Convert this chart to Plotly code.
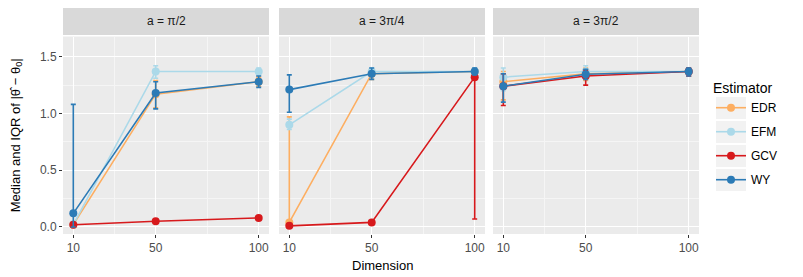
import plotly.graph_objects as go

OFF = 8  # default page margin of the html body
W, H = 803 - OFF, 277 - OFF

dims = [10, 50, 100]
panels = ["a = π/2", "a = 3π/4", "a = 3π/2"]
estimators = ["EDR", "EFM", "GCV", "WY"]
colors = {"EDR": "#FDAE61", "EFM": "#ABD9E9", "GCV": "#D7191C", "WY": "#2C7BB6"}

# medians / lower quartile / upper quartile, one row per panel
EDR_med = [[0.02, 1.17, 1.28], [0.04, 1.35, 1.37], [1.28, 1.35, 1.37]]
EDR_lo = [[0.00, 1.05, 1.24], [0.00, 1.30, 1.34], [1.12, 1.29, 1.33]]
EDR_hi = [[0.04, 1.29, 1.32], [0.97, 1.39, 1.39], [1.37, 1.40, 1.40]]

EFM_med = [[0.02, 1.37, 1.37], [0.90, 1.37, 1.37], [1.32, 1.37, 1.37]]
EFM_lo = [[0.00, 1.31, 1.34], [0.86, 1.33, 1.34], [1.20, 1.33, 1.33]]
EFM_hi = [[0.05, 1.42, 1.40], [0.95, 1.40, 1.40], [1.40, 1.42, 1.40]]

GCV_med = [[0.02, 0.05, 0.08], [0.01, 0.04, 1.32], [1.24, 1.33, 1.37]]
GCV_lo = [[0.01, 0.04, 0.07], [0.00, 0.03, 0.07], [1.07, 1.25, 1.33]]
GCV_hi = [[0.03, 0.06, 0.09], [0.02, 0.05, 1.38], [1.35, 1.38, 1.40]]

WY_med = [[0.12, 1.18, 1.28], [1.21, 1.35, 1.37], [1.24, 1.345, 1.37]]
WY_lo = [[0.00, 1.04, 1.23], [1.01, 1.30, 1.34], [1.10, 1.30, 1.33]]
WY_hi = [[1.08, 1.28, 1.33], [1.34, 1.40, 1.40], [1.35, 1.39, 1.40]]

data = {
    "EDR": (EDR_med, EDR_lo, EDR_hi),
    "EFM": (EFM_med, EFM_lo, EFM_hi),
    "GCV": (GCV_med, GCV_lo, GCV_hi),
    "WY": (WY_med, WY_lo, WY_hi),
}

FONT = "Liberation Sans, Arial, sans-serif"


def PX(x):
    return (x - OFF) / W


def PY(y):
    return (H - (y - OFF)) / H


# panel pixel geometry (window pixels)
px_left = [63, 279, 493]
px_w = 206
py_top, py_bot = 36.5, 234
strip_top, strip_bot = 7.5, 35

fig = go.Figure()
for p in range(3):
    ax = "" if p == 0 else str(p + 1)
    for est in estimators:
        med, lo, hi = data[est]
        m = med[p]
        plus = [h - v for h, v in zip(hi[p], m)]
        minus = [v - l for v, l in zip(m, lo[p])]
        fig.add_trace(go.Scatter(
            x=dims, y=m, mode="lines+markers",
            name=est, legendgroup=est, showlegend=(p == 0),
            line=dict(color=colors[est], width=1.6),
            marker=dict(color=colors[est], size=8),
            error_y=dict(type="data", array=plus, arrayminus=minus,
                         color=colors[est], thickness=1.6, width=2.5),
            xaxis="x" + ax, yaxis="y" + ax,
        ))

layout = dict(
    width=W, height=H,
    margin=dict(l=0, r=0, t=0, b=0),
    paper_bgcolor="white", plot_bgcolor="#EBEBEB",
    font=dict(family=FONT, color="#4D4D4D", size=12),
    legend=dict(
        x=PX(711), y=PY(75), xanchor="left", yanchor="top",
        title=dict(text="Estimator", font=dict(size=14, color="#000000")),
        font=dict(size=12, color="#000000"),
        tracegroupgap=5, itemwidth=30,
        bgcolor="rgba(0,0,0,0)",
    ),
    shapes=[], annotations=[],
)

for p in range(3):
    ax = "" if p == 0 else str(p + 1)
    x0 = PX(px_left[p])
    x1 = PX(px_left[p] + px_w)
    layout["xaxis" + ax] = dict(
        domain=[x0, x1], range=[5, 105], tickvals=dims, ticktext=[str(d) for d in dims],
        showgrid=True, gridcolor="white", gridwidth=1.1, zeroline=False,
        ticks="outside", ticklen=3, tickcolor="#333333", tickwidth=1,
        minor=dict(tickvals=[30, 75], showgrid=True, gridcolor="#F5F5F5", gridwidth=0.6, ticks=""),
        anchor="y" + ax, showline=False,
        tickfont=dict(size=12, color="#4D4D4D"),
    )
    layout["yaxis" + ax] = dict(
        domain=[PY(py_bot), PY(py_top)], range=[-0.062, 1.678],
        tickvals=[0, 0.5, 1.0, 1.5], ticktext=["0.0", "0.5", "1.0", "1.5"],
        showticklabels=(p == 0),
        showgrid=True, gridcolor="white", gridwidth=1.1, zeroline=False,
        ticks="outside" if p == 0 else "", ticklen=3, tickcolor="#333333", tickwidth=1,
        minor=dict(tickvals=[0.25, 0.75, 1.25], showgrid=True, gridcolor="#F5F5F5", gridwidth=0.6, ticks=""),
        anchor="x" + ax, showline=False,
        tickfont=dict(size=12, color="#4D4D4D"),
    )
    layout["shapes"].append(dict(
        type="rect", xref="paper", yref="paper",
        x0=x0, x1=x1, y0=PY(strip_bot), y1=PY(strip_top),
        fillcolor="#D9D9D9", line=dict(width=0), layer="below",
    ))
    layout["annotations"].append(dict(
        text=panels[p], xref="paper", yref="paper",
        x=(x0 + x1) / 2, y=PY((strip_top + strip_bot) / 2),
        xanchor="center", yanchor="middle", showarrow=False,
        font=dict(size=12, color="#1A1A1A"),
    ))

# grey legend key backgrounds
for i in range(4):
    cy = 108 + 24 * i
    layout["shapes"].append(dict(
        type="rect", xref="paper", yref="paper",
        x0=PX(716), x1=PX(746), y0=PY(cy + 11), y1=PY(cy - 11),
        fillcolor="#F2F2F2", line=dict(width=0), layer="below",
    ))

layout["annotations"].append(dict(
    text="Dimension", xref="paper", yref="paper",
    x=PX(px_left[1] + px_w / 2), y=PY(265),
    xanchor="center", yanchor="middle", showarrow=False,
    font=dict(size=13, color="#000000"),
))
layout["annotations"].append(dict(
    text="Median and IQR of |θ\u0302 − θ<sub>0</sub>|", xref="paper", yref="paper",
    x=PX(16), y=PY((py_top + py_bot) / 2), textangle=-90,
    xanchor="center", yanchor="middle", showarrow=False,
    font=dict(size=13, color="#000000"),
))

fig.update_layout(**layout)
fig.write_html("out.html")
